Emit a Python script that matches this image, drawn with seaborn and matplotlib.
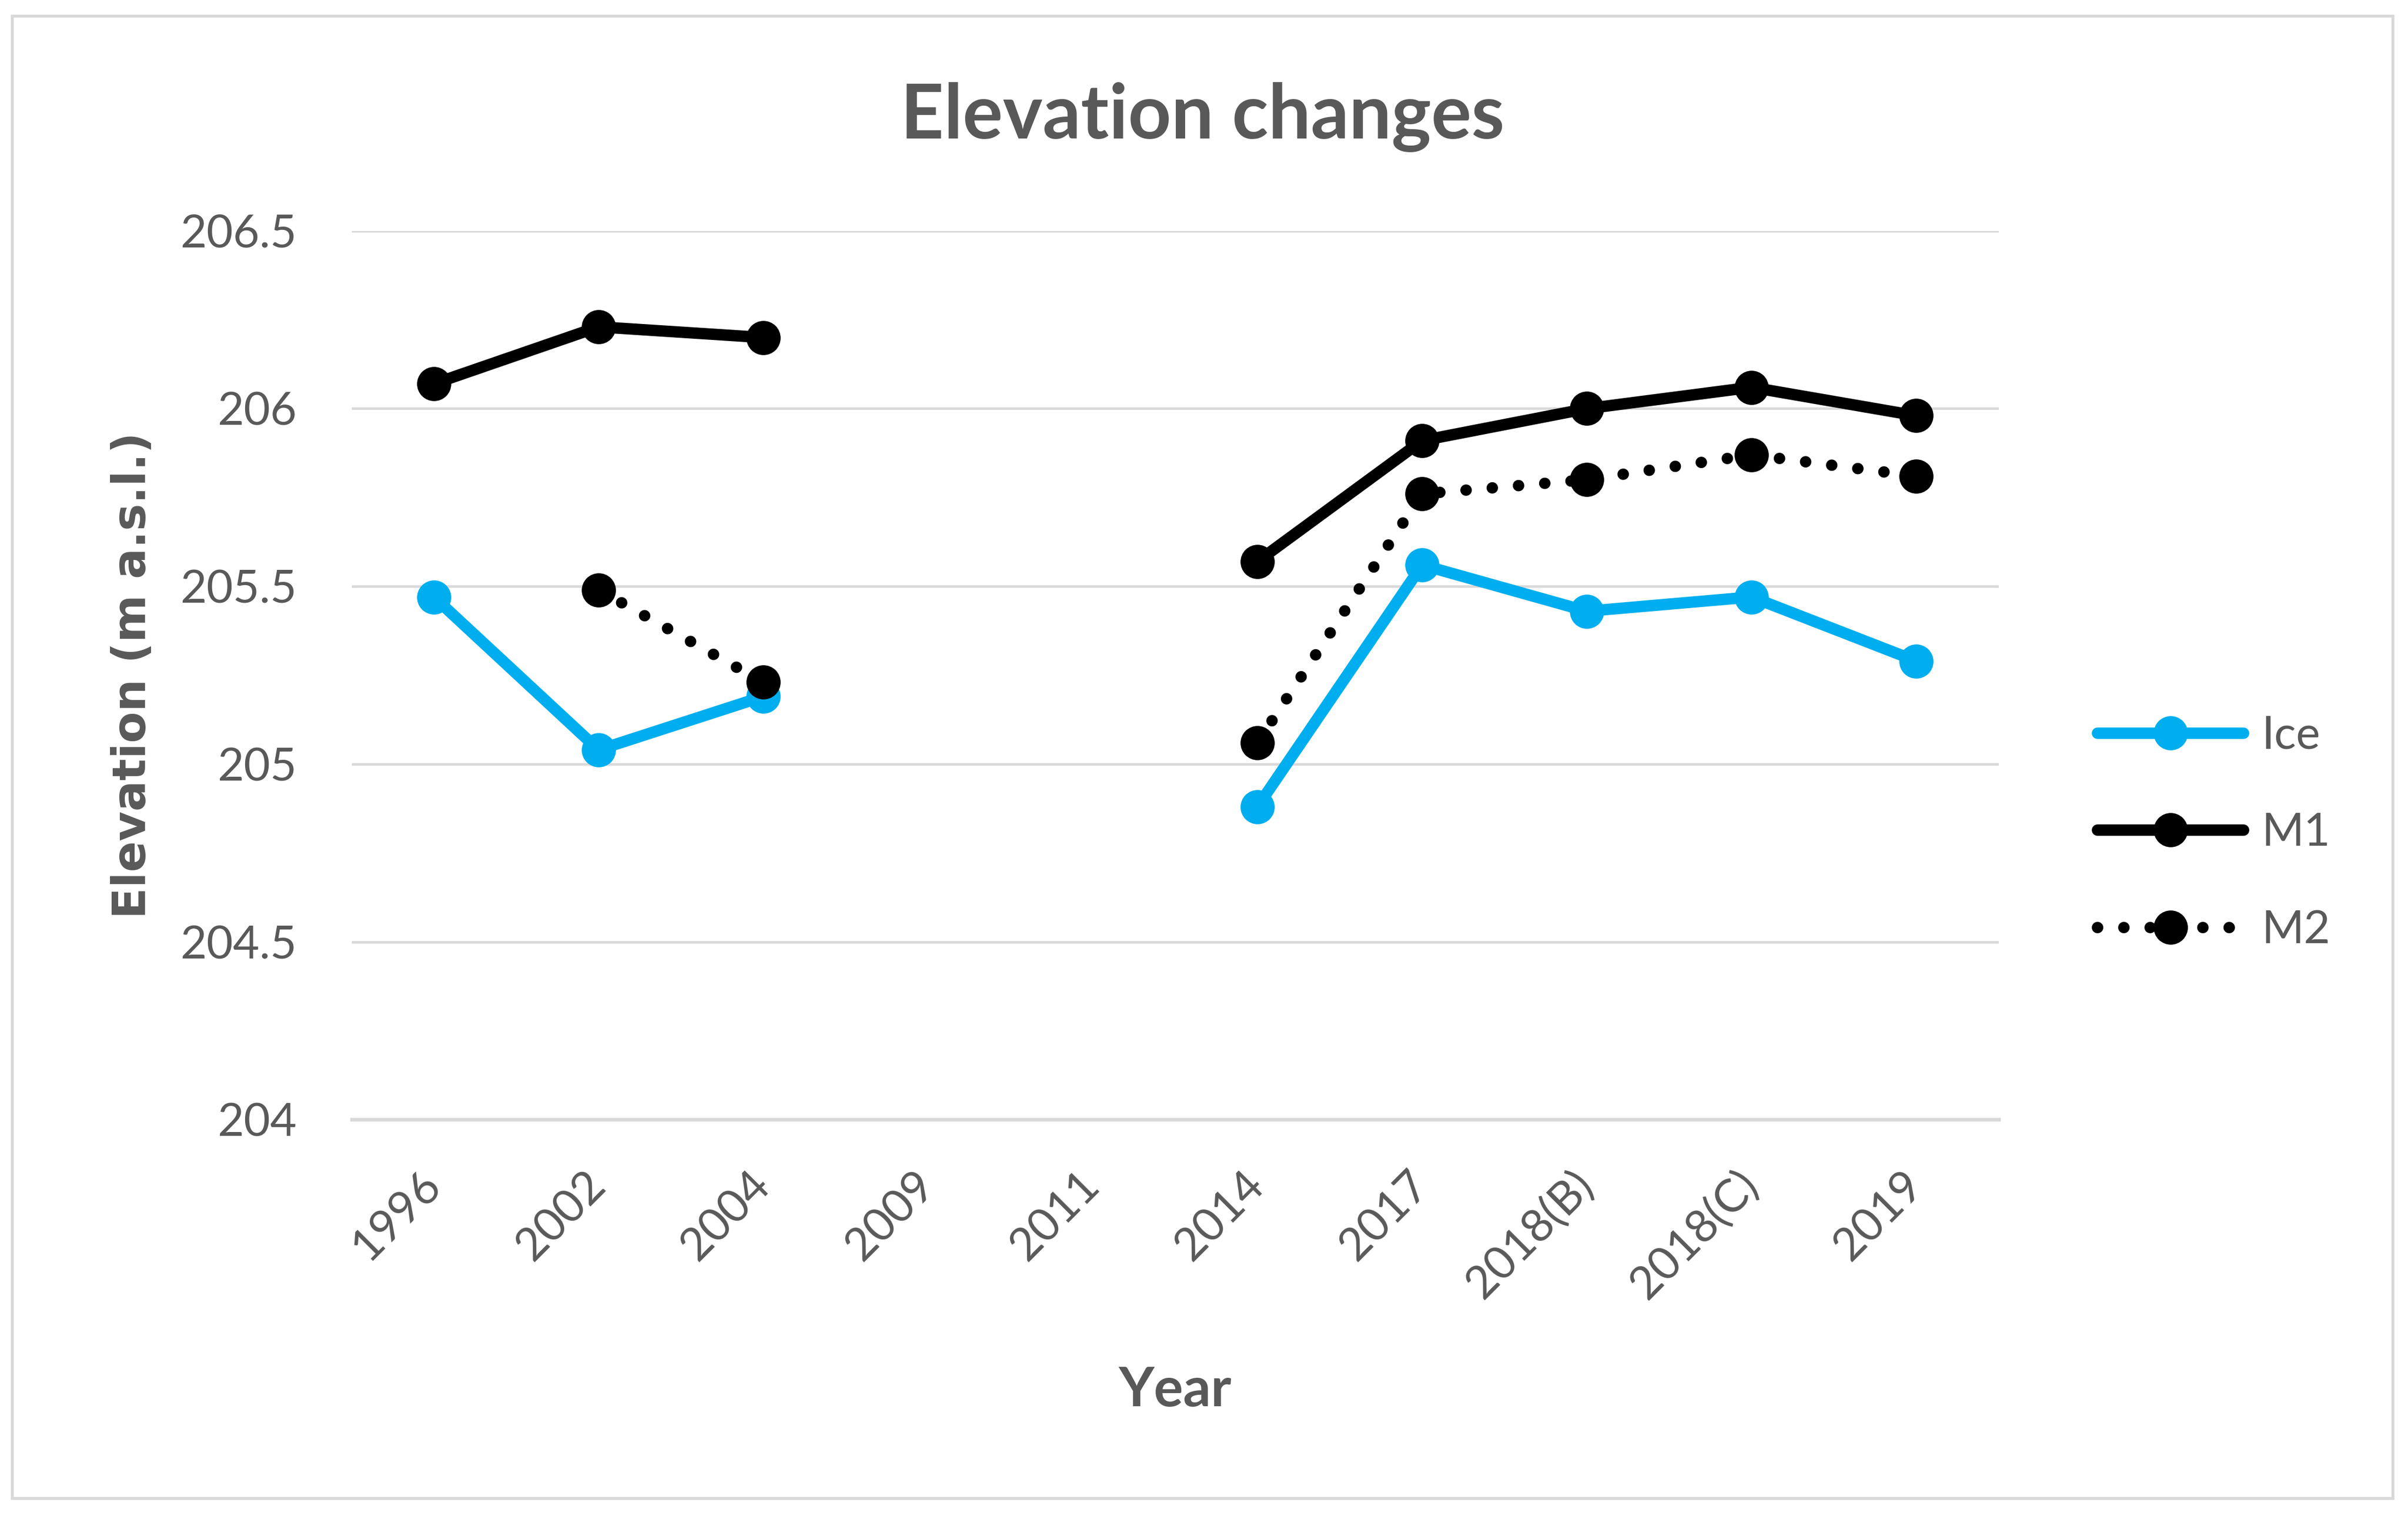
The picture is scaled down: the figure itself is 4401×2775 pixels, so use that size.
import pandas as pd
import numpy as np
import matplotlib
matplotlib.use("Agg")
import matplotlib.pyplot as plt
import seaborn as sns
from matplotlib.lines import Line2D
from matplotlib.patches import Rectangle

# data
years = ["1996", "2002", "2004", "2009", "2011", "2014", "2017", "2018(B)", "2018(C)", "2019"]
ice = [205.47, 205.04, 205.19, np.nan, np.nan, 204.88, 205.56, 205.43, 205.47, 205.29]
m1 = [206.07, 206.23, 206.20, np.nan, np.nan, 205.57, 205.91, 206.00, 206.06, 205.98]
m2 = [np.nan, 205.49, 205.23, np.nan, np.nan, 205.06, 205.76, 205.80, 205.87, 205.81]

series = {"Ice": ice, "M1": m1, "M2": m2}
colors = {"Ice": "#00AEEF", "M1": "#000000", "M2": "#000000"}
styles = {"Ice": "-", "M1": "-", "M2": (0, (0.01, 2.3))}

# long table, with a segment id so gaps in the data stay gaps
rows = []
for name, vals in series.items():
    seg = 0
    for i, v in enumerate(vals):
        if np.isnan(v):
            seg += 1
            continue
        rows.append({"pos": i, "Year": years[i], "Elevation": v, "Series": name, "seg": seg})
df = pd.DataFrame(rows)

sns.set_style("white")
plt.rcParams["font.family"] = ["Lato", "DejaVu Sans"]
grey = "#595959"
light = "#D9D9D9"
lw = 5
ms = 15

fig = plt.figure(figsize=(4401 / 300, 2775 / 300), dpi=300)
ax = fig.add_axes([0.146, 0.263, 0.684, 0.585])

for name in series:
    sub = df[df["Series"] == name]
    sns.lineplot(data=sub, x="pos", y="Elevation", units="seg", estimator=None,
                 color=colors[name], linewidth=lw, linestyle=styles[name],
                 dash_capstyle="round", solid_capstyle="round",
                 marker="o", markersize=ms, markeredgewidth=0,
                 legend=False, ax=ax, zorder=3)

ax.set_xlim(-0.5, len(years) - 0.5)
ax.set_ylim(204, 206.5)
ax.set_yticks([204, 204.5, 205, 205.5, 206, 206.5])
ax.set_yticklabels(["204", "204.5", "205", "205.5", "206", "206.5"])
ax.yaxis.grid(True, color=light, linewidth=1.1)
ax.xaxis.grid(False)
ax.set_xticks(range(len(years)))
ax.set_xticklabels(years, rotation=45, ha="right", va="center", rotation_mode="anchor")
ax.set_xticks(np.arange(-0.5, len(years), 1), minor=True)
ax.tick_params(axis="x", which="major", length=0, pad=26, labelsize=20, labelcolor=grey)
ax.tick_params(axis="x", which="minor", direction="in", length=6, width=1.1, color=light)
ax.tick_params(axis="y", length=0, pad=24, labelsize=20, labelcolor=grey)

for s in ["top", "right", "left"]:
    ax.spines[s].set_visible(False)
ax.spines["bottom"].set_color(light)
ax.spines["bottom"].set_linewidth(1.6)

ax.set_xlabel("Year", fontsize=24, fontweight="bold", color=grey)
ax.xaxis.set_label_coords(0.5, -0.305)
ax.xaxis.label.set_va("center")
ax.set_ylabel("Elevation (m a.s.l.)", fontsize=20, fontweight="bold", color=grey,
              family=["DejaVu Sans"])
ax.yaxis.set_label_coords(-0.133, 0.5)
ax.yaxis.label.set_va("center")

fig.text(0.4995, 0.923, "Elevation changes", fontsize=33, fontweight="bold",
         color=grey, ha="center", va="center")

handles = [Line2D([], [], color=colors[n], linewidth=lw, linestyle=styles[n],
                  dash_capstyle="round", solid_capstyle="round",
                  marker="o", markersize=ms, markeredgewidth=0) for n in series]
leg = ax.legend(handles, list(series.keys()), loc="center left",
                bbox_to_anchor=(1.035, 0.322), frameon=False, fontsize=20,
                handlelength=3.2, handletextpad=0.4, labelspacing=1.22)
for t in leg.get_texts():
    t.set_color(grey)

fig.patches.append(Rectangle((0.005, 0.0137), 0.9886, 0.976, transform=fig.transFigure,
                             fill=False, edgecolor=light, linewidth=1.3))

fig.savefig("out.png", dpi=300, facecolor="white")
